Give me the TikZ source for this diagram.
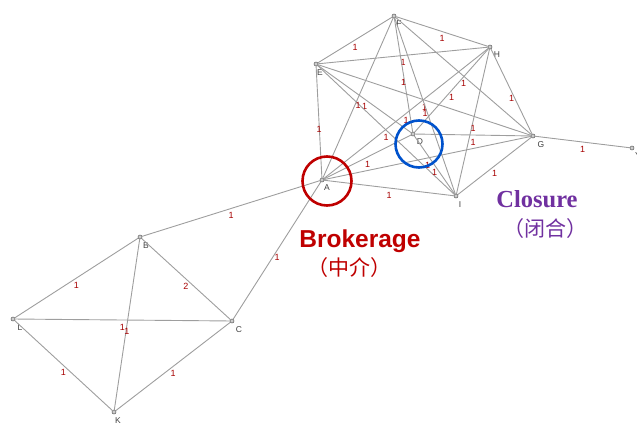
\documentclass[tikz,border=0pt]{standalone}
\usepackage{fontspec}
\setmainfont{Liberation Serif}
\setsansfont{Liberation Sans}
\newfontfamily\cjk{Noto Sans CJK SC}
\begin{document}
\begin{tikzpicture}[x=1pt,y=-1pt,
  vtx/.style={circle,draw=gray!70!black,fill=gray!40,inner sep=0pt,minimum size=4pt,line width=0.5pt},
  vlab/.style={font=\sffamily\fontsize{8.5}{8.5}\selectfont,text=black!75,inner sep=0pt},
  edge/.style={draw=black!38,line width=0.9pt},
  lab/.style={font=\sffamily\fontsize{9}{9}\selectfont,text=red!65!black,inner sep=0pt,yshift=-7pt}]
\useasboundingbox (0,0) rectangle (637,423);
% vertices
\node[vtx] (A) at (322,180) {};
\node[vtx] (B) at (140,237) {};
\node[vtx] (C) at (232,321) {};
\node[vtx] (D) at (413,134) {};
\node[vtx] (E) at (316,64) {};
\node[vtx] (F) at (394,16) {};
\node[vtx] (G) at (533,136) {};
\node[vtx] (H) at (490,47) {};
\node[vtx] (I) at (456,196) {};
\node[vtx] (K) at (114,412) {};
\node[vtx] (L) at (13,319) {};
\node[vtx] (Y) at (632,148) {};
% vertex labels
\node[vlab] (lA) at (327,188) {A};
\node[vlab] (lB) at (146,246) {B};
\node[vlab] (lC) at (239,330) {C};
\node[vlab] (lD) at (420,142) {D};
\node[vlab] (lE) at (320,73) {E};
\node[vlab] (lF) at (399,24) {F};
\node[vlab] (lG) at (541,145) {G};
\node[vlab] (lH) at (497,55) {H};
\node[vlab] (lI) at (460,205) {I};
\node[vlab] (lK) at (118,421) {K};
\node[vlab] (lY) at (638,156) {Y};
\node[vlab] (lL) at (20,328) {L};
% edges with labels
\foreach \u/\v/\w in {A/B/1,A/C/1,B/L/1,B/C/2,L/C/1,B/K/1,L/K/1,C/K/1,
  E/F/1,F/H/1,E/H/1,E/A/1,E/G/1,E/D/1,E/I/1,F/A/1,F/D/1,F/I/1,F/G/1,H/G/1,H/A/1,H/D/1,H/I/1,
  D/G/1,A/G/1,A/I/1,A/D/1,D/I/1,G/I/1,G/Y/1}
  \draw[edge] (\u) -- node[lab]{\w} (\v);
% highlight circles
\node[circle,draw=red!75!black,line width=2.6pt,minimum size=49pt,inner sep=0pt] (ca) at (327,181) {};
\node[circle,draw=blue!60!cyan!80!black,line width=2.6pt,minimum size=47pt,inner sep=0pt] (cd) at (419,144) {};
% captions
\node[font=\sffamily\bfseries\fontsize{24.5}{24.5}\selectfont,text=red!75!black,anchor=base] (bro) at (360,247) {Brokerage};
\node[font=\cjk\fontsize{21}{21}\selectfont,text=red!75!black] (bro2) at (349,268) {（中介）};
\node[font=\bfseries\fontsize{24.5}{24.5}\selectfont,text={rgb,255:red,112;green,48;blue,160},anchor=base] (clo) at (537,207) {Closure};
\node[font=\cjk\fontsize{21}{21}\selectfont,text={rgb,255:red,112;green,48;blue,160}] (clo2) at (545,229) {（闭合）};
\end{tikzpicture}
\end{document}
